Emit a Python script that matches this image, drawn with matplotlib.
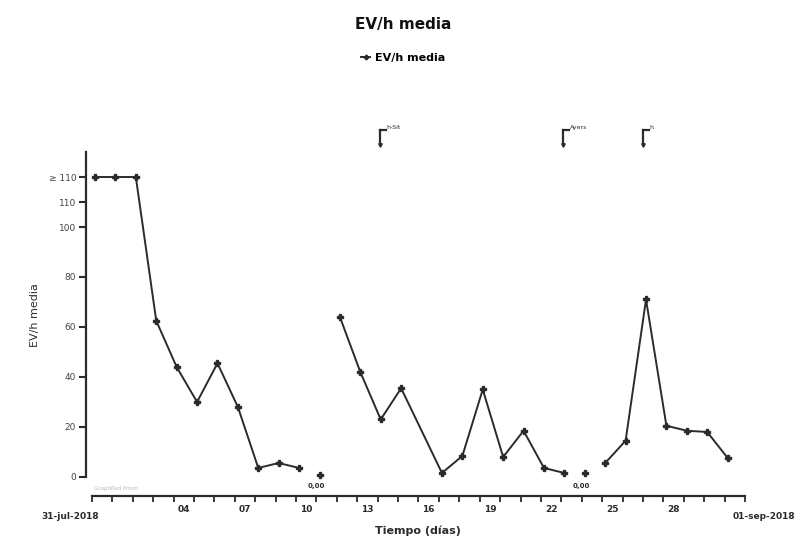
import numpy as np
import matplotlib
matplotlib.use("Agg")
from matplotlib import pyplot as plt

# days counted from 31-jul-2018 (0) to 01-sep-2018 (32); day 16 has no value
days = [0, 1, 2, 3, 4, 5, 6, 7, 8, 9, 10, 11, 12, 13, 14, 15,
        17, 18, 19, 20, 21, 22, 23, 24, 25, 26, 27, 28, 29, 30, 31]
# 120 = values above the axis break (">= 110"); nan = line break
evh = [120, 120, 120, 62.5, 44, 30, 45.5, 28, 3.6, 5.6, 3.6, np.nan,
       64, 42, 23, 35.5,
       1.6, 8.4, 35, 8, 18.5, 3.6, 1.6, np.nan, 5.6, 14.5, 71, 20.5, 18.5, 18, 7.6]

iso_days = [11, 24]
iso_vals = [0.8, 1.6]
iso_labels = ["0,00", "0,00"]

note_days = [14.1, 23.1, 27.0]
note_texts = ["h-Sit", "Ayers", "h"]

ytick_vals = [0, 20, 40, 60, 80, 100, 110, 120]
ytick_labels = ["0", "20", "40", "60", "80", "100", "110", "\u2265 110"]

xlabel_days = [4, 7, 10, 13, 16, 19, 22, 25, 28]
xlabel_texts = ["04", "07", "10", "13", "16", "19", "22", "25", "28"]

dark = "#2b2b2b"
px = 0.72  # points per pixel at dpi 100

fig = plt.figure(figsize=(8.06, 5.40), dpi=100)
ax = fig.add_axes([0.1141, 0.1167, 0.8102, 0.6018])

ax.plot([d + 0.15 for d in days], evh, color=dark, lw=1.4, marker="P",
        ms=3.8, label="EV/h media", clip_on=False)
ax.plot([d + 0.15 for d in iso_days], iso_vals, ls="none", color=dark,
        marker="P", ms=3.8, clip_on=False)
for d, v, t in zip(iso_days, iso_vals, iso_labels):
    ax.text(d, -3.5, t, ha="center", va="center", fontsize=5,
            fontweight="bold", color=dark, clip_on=False)

# small bracket notes above the plot
for d, t in zip(note_days, note_texts):
    ax.plot([d, d], [133, 139], color=dark, lw=1.6, clip_on=False)
    ax.plot([d, d + 0.3], [139, 139], color=dark, lw=1.6, clip_on=False)
    ax.plot([d], [133], marker="v", ms=2.5, color=dark, clip_on=False)
    ax.text(d + 0.32, 140, t, fontsize=4.5, color=dark, va="center",
            ha="left", clip_on=False)

ax.set_xlim(0, 32)
ax.set_ylim(0, 130)

for s in ["top", "right"]:
    ax.spines[s].set_visible(False)
ax.spines["left"].set_position(("outward", 6 * px))
ax.spines["bottom"].set_position(("outward", 19 * px))
ax.spines["left"].set_bounds(0, 130)
ax.spines["bottom"].set_bounds(0, 32)
for s in ["left", "bottom"]:
    ax.spines[s].set_linewidth(1.6)
    ax.spines[s].set_color(dark)

ax.set_yticks(ytick_vals)
ax.set_yticklabels(ytick_labels)
ax.set_xticks(range(0, 33))
ax.set_xticklabels([])
ax.set_xticks([d + 0.5 for d in xlabel_days], minor=True)
ax.set_xticklabels(xlabel_texts, minor=True)
ax.tick_params(axis="y", direction="out", length=7 * px, width=1.5,
               color=dark, labelsize=6.5, labelcolor="#444444", pad=2)
ax.tick_params(axis="x", which="major", direction="out", length=6 * px,
               width=1.3, color=dark)
ax.tick_params(axis="x", which="minor", length=0, labelsize=6.5,
               labelcolor=dark, pad=9 * px)
for lab in ax.get_xticklabels(minor=True):
    lab.set_fontweight("bold")

ax.text(0.35, -16, "31-jul-2018", ha="right", va="center", fontsize=6.5,
        fontweight="bold", color=dark, clip_on=False)
ax.text(31.4, -16, "01-sep-2018", ha="left", va="center", fontsize=6.5,
        fontweight="bold", color=dark, clip_on=False)
ax.text(0.1, -4.6, "GraphPad Prism", fontsize=4, color="#bbbbbb",
        ha="left", va="center", clip_on=False)

fig.text(35 / 806, 1 - 315 / 540, "EV/h media", rotation=90, ha="center",
         va="center", fontsize=8, color=dark)
fig.text(418 / 806, 1 - 531 / 540, "Tiempo (días)", ha="center",
         va="center", fontsize=8, fontweight="bold", color=dark)

fig.text(0.5, 0.955, "EV/h media", ha="center", va="center", fontsize=11,
         fontweight="bold", color="#111111")
fig.legend(loc="center", bbox_to_anchor=(0.5, 0.893), frameon=False,
           prop={"size": 8, "weight": "bold"}, handlelength=0.8,
           handletextpad=0.4, markerscale=0.8)

fig.savefig("out.png", dpi=100)
